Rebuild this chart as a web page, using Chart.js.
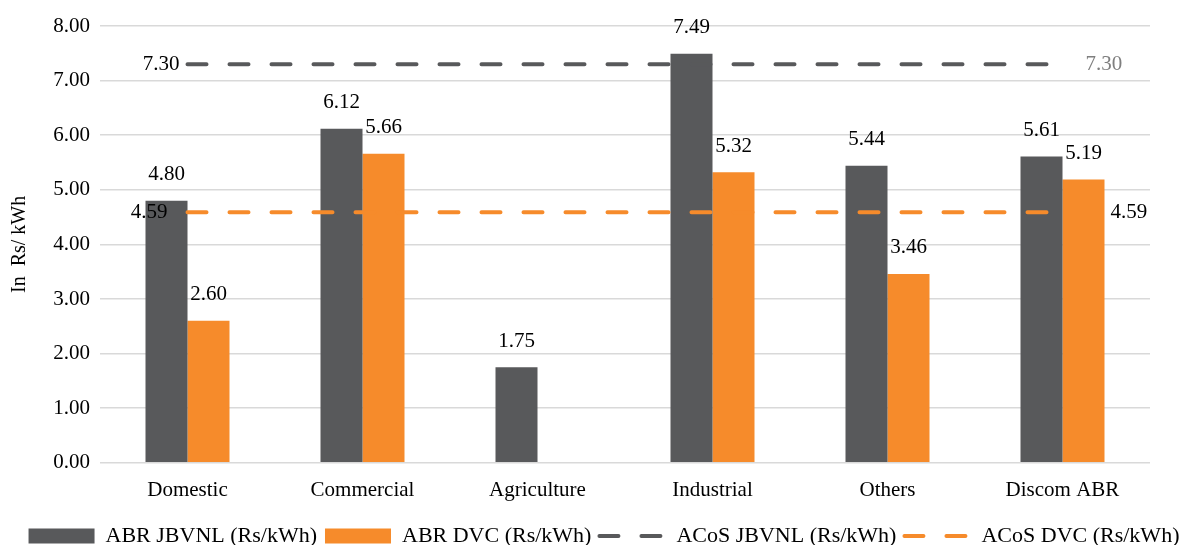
<!DOCTYPE html>
<html>
<head>
<meta charset="utf-8">
<script src="https://cdn.jsdelivr.net/npm/chart.js@4"></script>
<style>
  html, body { margin: 0; padding: 0; background: #fff; }
  #wrap { width: 1190px; height: 545px; }
</style>
</head>
<body>
<div id="wrap"><canvas id="chartCanvas" width="1190" height="545"></canvas></div>
<script>
const categories = ['Domestic', 'Commercial', 'Agriculture', 'Industrial', 'Others', 'Discom ABR'];
const abrJbvnl = [4.80, 6.12, 1.75, 7.49, 5.44, 5.61];
const abrDvc = [2.60, 5.66, null, 5.32, 3.46, 5.19];
const acosJbvnl = [7.30, 7.30, 7.30, 7.30, 7.30, 7.30];
const acosDvc = [4.59, 4.59, 4.59, 4.59, 4.59, 4.59];
const yTicks = [0, 1, 2, 3, 4, 5, 6, 7, 8];

const GREY = '#58595b';
const ORANGE = '#f68b2b';
const FONT = "'Liberation Serif', 'Times New Roman', serif";

Chart.defaults.font.family = FONT;
Chart.defaults.color = '#000';

// values above the bars
const barLabels = {
    id: 'barLabels',
    afterDatasetsDraw(chart) {
        const ctx = chart.ctx;
        ctx.save();
        ctx.font = '21px ' + FONT;
        ctx.fillStyle = '#000';
        ctx.textAlign = 'center';
        ctx.textBaseline = 'middle';
        chart.data.datasets.forEach((ds, i) => {
            if (ds.type === 'line') return;
            chart.getDatasetMeta(i).data.forEach((bar, j) => {
                const v = ds.data[j];
                if (v === null) return;
                ctx.fillText(v.toFixed(2), bar.x, bar.y - 26);
            });
        });
        ctx.restore();
    }
};

// labels at both ends of the dashed lines
const lineEnds = {
    id: 'lineEnds',
    afterDatasetsDraw(chart, args, opts) {
        const ctx = chart.ctx;
        ctx.save();
        ctx.font = '21px ' + FONT;
        ctx.textBaseline = 'middle';
        chart.data.datasets.forEach((ds, i) => {
            if (ds.type !== 'line') return;
            const st = opts.styles[ds.label];
            const pts = chart.getDatasetMeta(i).data;
            const first = pts[0], last = pts[pts.length - 1];
            ctx.fillStyle = st.leftColor;
            ctx.textAlign = 'right';
            ctx.fillText(ds.data[0].toFixed(2), first.x - st.leftGap, first.y);
            ctx.fillStyle = st.rightColor;
            ctx.textAlign = 'left';
            ctx.fillText(ds.data[ds.data.length - 1].toFixed(2), last.x + st.rightGap, last.y);
        });
        ctx.restore();
    }
};

const ctx = document.getElementById('chartCanvas').getContext('2d');
new Chart(ctx, {
    type: 'bar',
    data: {
        labels: categories,
        datasets: [
            { label: 'ABR JBVNL (Rs/kWh)', data: abrJbvnl, backgroundColor: GREY, borderWidth: 0, order: 2 },
            { label: 'ABR DVC (Rs/kWh)', data: abrDvc, backgroundColor: ORANGE, borderWidth: 0, order: 2 },
            {
                type: 'line', label: 'ACoS JBVNL (Rs/kWh)', data: acosJbvnl,
                borderColor: GREY, backgroundColor: GREY, borderWidth: 4,
                borderDash: [19, 23], borderCapStyle: 'round', pointRadius: 0, order: 1
            },
            {
                type: 'line', label: 'ACoS DVC (Rs/kWh)', data: acosDvc,
                borderColor: ORANGE, backgroundColor: ORANGE, borderWidth: 4,
                borderDash: [19, 23], borderCapStyle: 'round', pointRadius: 0, order: 1
            }
        ]
    },
    options: {
        responsive: false,
        animation: false,
        datasets: {
            bar: { categoryPercentage: 0.48, barPercentage: 1.0 }
        },
        layout: { padding: { top: 26, right: 0, bottom: -12, left: 18 } },
        scales: {
            x: {
                grid: { display: false },
                border: { display: false },
                afterFit: scale => { scale.height += 7; },
                ticks: { font: { size: 21 }, color: '#000', padding: 7 }
            },
            y: {
                min: 0,
                max: 8,
                afterBuildTicks: scale => { scale.ticks = yTicks.map(v => ({ value: v })); },
                afterFit: scale => { scale.width = 82; },
                grid: { color: '#d9d9d9', lineWidth: 1.5, drawTicks: false },
                border: { display: false },
                ticks: {
                    font: { size: 21 }, color: '#000', padding: 10,
                    callback: v => Number(v).toFixed(2)
                },
                title: {
                    display: true, text: 'In  Rs/ kWh',
                    font: { size: 20 }, color: '#000', padding: { top: -10, bottom: 4 }
                }
            },
            // empty right-hand axis, only keeps the margin on the right
            yRight: {
                position: 'right',
                afterFit: scale => { scale.width = 40; },
                grid: { display: false },
                border: { display: false },
                ticks: { display: false }
            }
        },
        plugins: {
            tooltip: { enabled: false },
            legend: {
                position: 'bottom',
                labels: {
                    usePointStyle: true,
                    pointStyleWidth: 66,
                    boxHeight: 15,
                    padding: 8,
                    font: { size: 22 },
                    color: '#000',
                    generateLabels: chart => {
                        const items = Chart.defaults.plugins.legend.labels.generateLabels(chart);
                        items.sort((a, b) => a.datasetIndex - b.datasetIndex);
                        items.forEach(it => {
                            const ds = chart.data.datasets[it.datasetIndex];
                            if (ds.type === 'line') {
                                it.pointStyle = 'line';
                                it.lineWidth = 4;
                                it.lineDash = [19, 23];
                                it.lineCap = 'round';
                                it.strokeStyle = ds.borderColor;
                            } else {
                                it.pointStyle = 'rect';
                                it.lineWidth = 0;
                            }
                        });
                        return items;
                    }
                }
            },
            lineEnds: {
                styles: {
                    'ACoS JBVNL (Rs/kWh)': { leftColor: '#000', rightColor: '#7f7f7f', leftGap: 8, rightGap: 23 },
                    'ACoS DVC (Rs/kWh)': { leftColor: '#000', rightColor: '#000', leftGap: 20, rightGap: 48 }
                }
            }
        }
    },
    plugins: [barLabels, lineEnds]
});
</script>
</body>
</html>
